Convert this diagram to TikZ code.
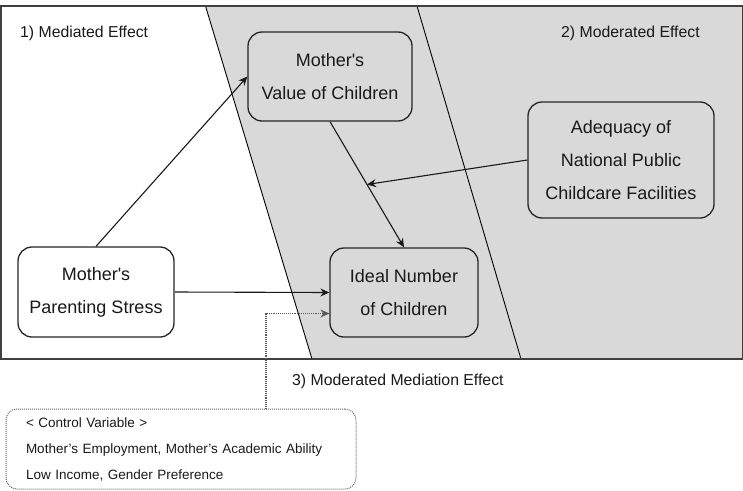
\documentclass[tikz,border=0pt]{standalone}
\usepackage{fontspec}
\setmainfont{Liberation Sans}
\usetikzlibrary{arrows.meta,calc}
\definecolor{bandgray}{RGB}{217,217,217}
\definecolor{txt}{RGB}{25,25,25}
\begin{document}
\begin{tikzpicture}[x=1pt,y=-1pt,
  box/.style={draw=black!85, line width=1.3pt, rounded corners=14pt, align=center,
    font=\fontsize{18}{33}\selectfont, text=txt, inner sep=0pt},
  arr/.style={-{Stealth[length=9pt,width=8pt,inset=3pt]}, line width=1.1pt, draw=black!90},
  lbl/.style={font=\fontsize{15.8}{19}\selectfont, text=txt, anchor=west, inner sep=0pt},
  cvbox/.style={draw=black!60, densely dotted, line width=1pt, rounded corners=11pt,
    font=\fontsize{13.5}{26}\selectfont, text=txt, align=left, text width=310pt,
    inner xsep=20pt, inner ysep=0pt, minimum height=80pt},
  band/.style={draw=black, line width=0.9pt}
]
\useasboundingbox (0,0) rectangle (743,490);
% shaded region
\fill[bandgray] (205.5,6) -- (743,6) -- (743,359) -- (312,359) -- cycle;
\draw[band] (205.5,6) -- (312,359);
\draw[band] (417,6) -- (521,359);
\draw[line width=1.5pt, black!75] (0.75,6) rectangle (742.25,359);

% labels
\node[lbl] (l1) at (20,33) {1) Mediated Effect};
\node[lbl] (l2) at (561,33) {2) Moderated Effect};
\node[lbl] (l3) at (292,381) {3) Moderated Mediation Effect};

% boxes
\node[box, fill=white, minimum width=156pt, minimum height=90pt] (ps) at (96,292) {Mother\textquotesingle s\\Parenting Stress};
\node[box, minimum width=164pt, minimum height=89pt] (val) at (330,76.5) {Mother\textquotesingle s\\Value of Children};
\node[box, minimum width=148pt, minimum height=89pt] (ideal) at (404,292.5) {Ideal Number\\of Children};
\node[box, minimum width=186pt, minimum height=116pt] (adeq) at (621,160) {Adequacy of\\National Public\\Childcare Facilities};

\node[cvbox] (cv) at (181,449) {< Control Variable >\\Mother’s Employment, Mother’s Academic Ability\\Low Income, Gender Preference};

% connectors
\draw[arr] (ps.north) -- (val.west);
\draw[arr] (ps.east) -- (ideal.west);
\draw[arr] (val.south) -- (ideal.north);
\coordinate (mid) at ($(val.south)!0.5!(ideal.north)$);
\draw[arr] (adeq.west) -- (mid);
\coordinate (ctop) at (266,409);
\draw[arr, densely dotted, draw=black!65] (ctop) |- ($(ideal.west)+(0,21)$);
\end{tikzpicture}
\end{document}
